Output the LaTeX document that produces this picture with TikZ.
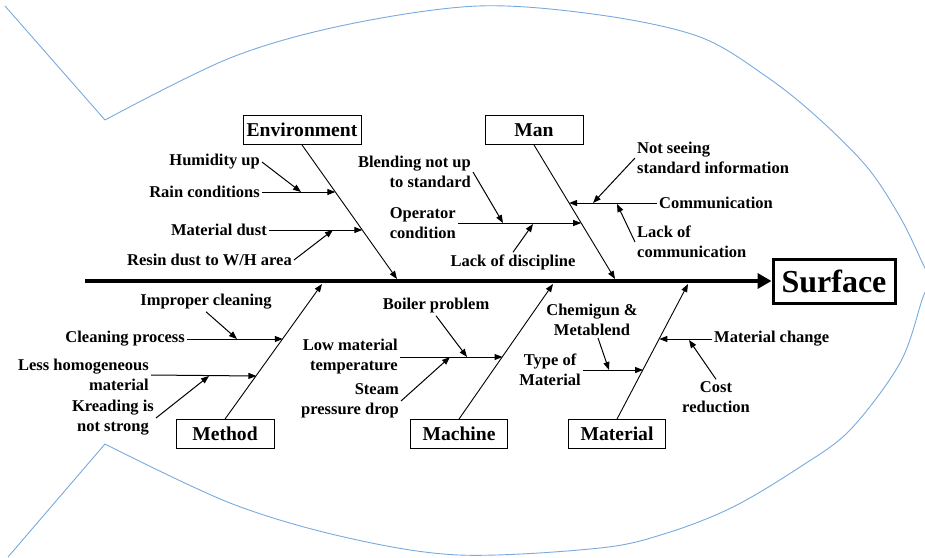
\documentclass[tikz,border=0pt]{standalone}
\usepackage{fontspec}
\setmainfont{Liberation Serif}
\usetikzlibrary{arrows.meta,calc}
\definecolor{fishblue}{RGB}{120,170,222}

\begin{document}
\begin{tikzpicture}[x=1pt,y=-1pt,
  cause/.style={font=\bfseries\fontsize{16.5}{20}\selectfont, inner sep=2pt},
  catbox/.style={draw, line width=0.9pt, font=\bfseries\fontsize{19.6}{22}\selectfont,
                 minimum height=29pt, inner sep=0pt},
  bone/.style={line width=0.9pt, -{Triangle[length=8pt,width=6pt]}},
  sub/.style={line width=1pt, -{Triangle[length=8pt,width=6pt]}},
  outline/.style={draw=fishblue, line width=0.9pt}
]
\useasboundingbox (0,0) rectangle (925,557);
\clip (0,0) rectangle (925,557);

% fish body and tail
\draw[outline] (5,6) -- (105,120)
  plot[smooth, tension=0.55] coordinates {(105,120) (230,58) (345,25) (478,6) (600,15) (700,37)
    (767,77) (817,117) (867,167) (900,217) (922,262) (929,280) (922,300) (900,363) (850,430)
    (800,467) (733,507) (667,533) (600,548) (459,555) (344,537) (230,503) (105,444)}
  -- (8,557);

% head
\node[draw, line width=3pt, minimum width=122pt, minimum height=44pt, inner sep=0pt,
      font=\bfseries\fontsize{32}{36}\selectfont] (surface) at (834,281) {Surface};

% spine
\coordinate (tailend) at (85,281);
\draw[line width=4.5pt, -{Triangle[length=14pt,width=15pt]}] (tailend) -- (surface.west);

% category boxes
\node[catbox, minimum width=118pt] (env) at (302,130) {Environment};
\node[catbox, minimum width=98pt]  (man) at (534,130) {Man};
\node[catbox, minimum width=98pt]  (meth) at (225,434) {Method};
\node[catbox, minimum width=97pt]  (mach) at (459,434) {Machine};
\node[catbox, minimum width=97pt]  (mat) at (617,434) {Material};

% bone ends on the spine
\coordinate (envtip) at (397,279);
\coordinate (mantip) at (615,279);
\coordinate (methtip) at (322,284);
\coordinate (machtip) at (553,284);
\coordinate (mattip) at (688,284);

\draw[bone] (env.south) -- (envtip);
\draw[bone] (man.south) -- (mantip);
\draw[bone] (meth.north) -- (methtip);
\draw[bone] (mach.north) -- (machtip);
\draw[bone] (mat.north) -- (mattip);

% ---- Environment ----
\node[cause, anchor=east] (hum) at (262,162) {Humidity up};
\node[cause, anchor=east] (rain) at (262,192) {Rain conditions};
\node[cause, anchor=east] (mdust) at (269,230) {Material dust};
\node[cause, anchor=east] (resin) at (294,260) {Resin dust to W/H area};
\coordinate (e1) at (335.3,192);
\coordinate (e2) at (362.3,230);
\coordinate (e1a) at (301,192);
\coordinate (e2a) at (333,230);
\draw[sub] (rain.east) -- (e1);
\draw[sub] (hum.east) -- (e1a);
\draw[sub] (mdust.east) -- (e2);
\draw[sub] (resin.east) -- (e2a);

% ---- Man ----
\node[cause, anchor=east, align=right] (blend) at (473,172) {Blending not up\\to standard};
\node[cause, anchor=east, align=center] (oper) at (458,223) {Operator\\condition};
\node[cause] (disc) at (513,262) {Lack of discipline};
\coordinate (m1) at (581.2,223);
\coordinate (m1a) at (503,223);
\coordinate (m1b) at (533,224);
\draw[sub] (oper.east) -- (m1);
\draw[sub] (blend.east) -- (m1a);
\draw[sub] (disc.north) -- (m1b);

\node[cause, anchor=west] (comm) at (657,203) {Communication};
\node[cause, anchor=west, align=left] (notsee) at (635,158) {Not seeing\\standard information};
\node[cause, anchor=west, align=left] (lackc) at (635,242) {Lack of\\communication};
\coordinate (m2) at (569.1,203);
\coordinate (m2a) at (593,203);
\coordinate (m2b) at (617,204);
\draw[sub] (comm.west) -- (m2);
\draw[sub] (notsee.west) -- (m2a);
\draw[sub] (lackc.west) -- (m2b);

% ---- Method ----
\node[cause] (improper) at (206,302) {Improper cleaning};
\node[cause, anchor=east] (cleanp) at (187,339) {Cleaning process};
\node[cause, anchor=east, align=right] (lesshom) at (151,375) {Less homogeneous\\material};
\node[cause, anchor=east, align=center] (kread) at (156,418) {Kreading is\\not strong};
\coordinate (t1) at (282.8,339);
\coordinate (t1a) at (237,339);
\coordinate (t2) at (256.4,376);
\coordinate (t2a) at (209,376);
\draw[sub] (cleanp.east) -- (t1);
\draw[sub] (improper.south) -- (t1a);
\draw[sub] (lesshom.east) -- (t2);
\draw[sub] (kread.east) -- (t2a);

% ---- Machine ----
\node[cause] (boiler) at (436,306) {Boiler problem};
\node[cause, anchor=east, align=right] (lowmat) at (400,357) {Low material\\temperature};
\node[cause, anchor=east, align=right] (steam) at (401,401) {Steam\\pressure drop};
\coordinate (c1) at (502.5,357);
\coordinate (c1a) at (467,357);
\coordinate (c1b) at (450,357);
\draw[sub] (lowmat.east) -- (c1);
\draw[sub] (boiler.south) -- (c1a);
\draw[sub] (steam.east) -- (c1b);

% ---- Material ----
\node[cause, align=center] (chem) at (592,320) {Chemigun \&\\Metablend};
\node[cause, anchor=east, align=center] (typem) at (583,370) {Type of\\Material};
\node[cause, anchor=west] (matchg) at (712,339) {Material change};
\node[cause, align=center] (cost) at (716,397) {Cost\\reduction};
\coordinate (r1) at (643.1,370);
\coordinate (r1a) at (609,370);
\coordinate (r2) at (659.3,339);
\coordinate (r2a) at (689,340);
\draw[sub] (typem.east) -- (r1);
\draw[sub] ([xshift=6pt]chem.south) -- (r1a);
\draw[sub] (matchg.west) -- (r2);
\draw[sub] (cost.north) -- (r2a);
\end{tikzpicture}
\end{document}
